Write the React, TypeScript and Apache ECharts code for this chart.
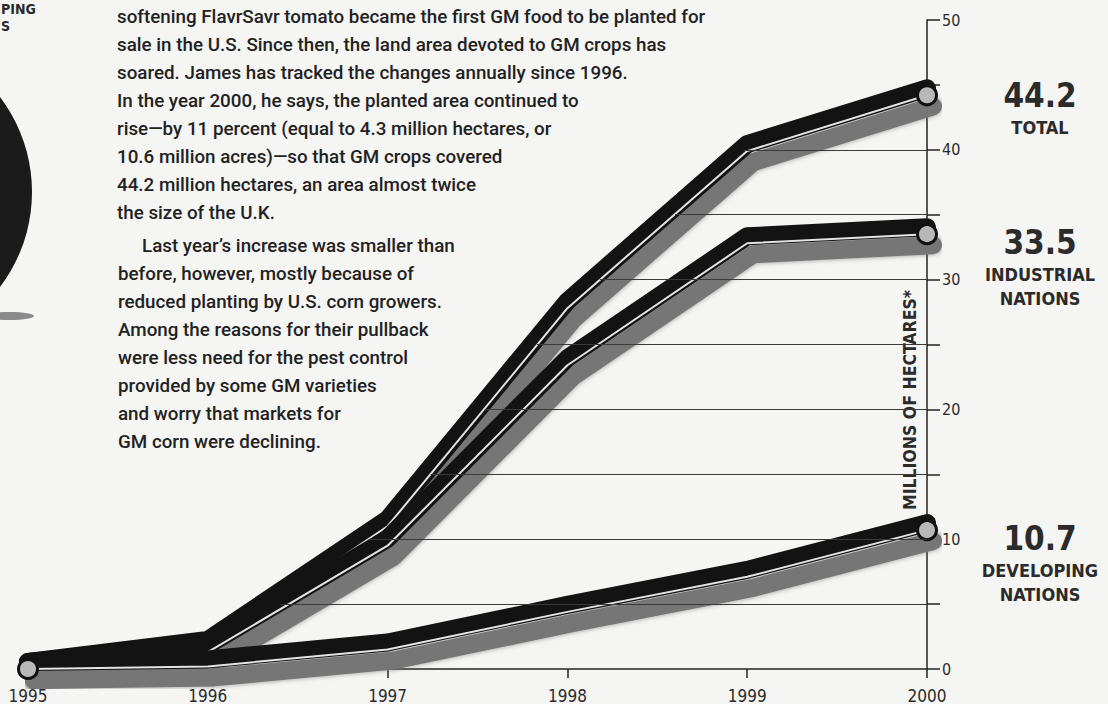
import React, { useEffect, useRef } from "react";
import * as echarts from "echarts";

const years = [1995, 1996, 1997, 1998, 1999, 2000];
const xTickLabels = ["1995", "1996", "1997", "1998", "1999", "2000"];
const totalArea = [0, 1.7, 11.0, 27.8, 39.9, 44.2];
const industrialArea = [0, 1.3, 9.5, 23.4, 32.8, 33.5];
const developingArea = [0, 0.2, 1.5, 4.4, 7.1, 10.7];
const yTickLabels = [0, 10, 20, 30, 40, 50];
const gridValues = [5, 10, 15, 20, 25, 30, 35, 40];
const gridStartYears = [1996.4, 1996.9, 1997.24, 1997.54, 1997.83, 1998.18, 1998.6, 1998.98];

const paragraphOne = [
  "softening FlavrSavr tomato became the first GM food to be planted for",
  "sale in the U.S. Since then, the land area devoted to GM crops has",
  "soared. James has tracked the changes annually since 1996.",
  "In the year 2000, he says, the planted area continued to",
  "rise\u2014by 11 percent (equal to 4.3 million hectares, or",
  "10.6 million acres)\u2014so that GM crops covered",
  "44.2 million hectares, an area almost twice",
  "the size of the U.K.",
];
const paragraphTwo = [
  "Last year\u2019s increase was smaller than",
  "before, however, mostly because of",
  "reduced planting by U.S. corn growers.",
  "Among the reasons for their pullback",
  "were less need for the pest control",
  "provided by some GM varieties",
  "and worry that markets for",
  "GM corn were declining.",
];
const seriesNames = [["TOTAL"], ["INDUSTRIAL", "NATIONS"], ["DEVELOPING", "NATIONS"]];
const axisTitle = "MILLIONS OF HECTARES*";
const cornerTexts = ["PING", "S"];

const COND = '"DejaVu Sans Condensed", "Liberation Sans Narrow", "Roboto Condensed", "DejaVu Sans", sans-serif';
const BODY = 'Roboto, "Noto Sans", sans-serif';

export default function App() {
  const ref = useRef<HTMLDivElement>(null);
  useEffect(() => {
    if (!ref.current) return;
    const chart = echarts.init(ref.current, undefined, { renderer: "svg" });
    const sets = [totalArea, industrialArea, developingArea];
    const toPts = (arr: number[]) => years.map((y, i) => [y, arr[i]]);

    const series: any[] = [];
    series.push({
      type: "line",
      data: [],
      xAxisIndex: 0,
      yAxisIndex: 0,
      silent: true,
      z: 1,
      markLine: {
        silent: true,
        symbol: ["none", "none"],
        label: { show: false },
        lineStyle: { color: "#3a3a3a", width: 1, type: "solid" },
        data: gridValues.map((v, i) => [{ coord: [gridStartYears[i], v] }, { coord: [2000, v] }]),
      },
    });
    sets.forEach((arr, si) => {
      const pts = toPts(arr);
      series.push({
        type: "line",
        data: pts,
        xAxisIndex: 2,
        yAxisIndex: 2,
        symbol: "none",
        silent: true,
        z: 3,
        lineStyle: {
          color: "#767676",
          width: 18,
          cap: "round",
          join: "round",
          shadowColor: "rgba(110,110,110,0.7)",
          shadowBlur: 5,
        },
      });
      series.push({
        type: "line",
        data: pts,
        xAxisIndex: 1,
        yAxisIndex: 1,
        symbol: "none",
        silent: true,
        z: 3,
        lineStyle: { color: "#131313", width: 18, cap: "round", join: "round" },
      });
      series.push({
        type: "line",
        data: pts,
        xAxisIndex: 0,
        yAxisIndex: 0,
        symbol: "circle",
        showAllSymbol: true,
        symbolSize: (_v: any, p: any) =>
          p.dataIndex === years.length - 1 || (si === 2 && p.dataIndex === 0) ? 19 : 0,
        silent: true,
        z: 3,
        itemStyle: { color: "#b8b8b8", borderColor: "#111", borderWidth: 3 },
        lineStyle: { color: "#e4e4e4", width: 2, join: "round" },
      });
    });

    const graphics: any[] = [];
    graphics.push({ type: "circle", shape: { cx: -125, cy: 192, r: 157 }, style: { fill: "#1b1b1b" } });
    graphics.push({ type: "ellipse", shape: { cx: 10, cy: 316, rx: 24, ry: 4 }, style: { fill: "#8a8a8a" } });
    graphics.push({ type: "text", x: 1, y: 9, style: { text: cornerTexts[0], fill: "#2a2a2a", font: `bold 14px ${COND}`, textAlign: "left", textVerticalAlign: "middle" } });
    graphics.push({ type: "text", x: 1, y: 26, style: { text: cornerTexts[1], fill: "#2a2a2a", font: `bold 14px ${COND}`, textAlign: "left", textVerticalAlign: "middle" } });
    paragraphOne.forEach((t, i) => {
      graphics.push({ type: "text", x: 117, y: 17 + i * 28, style: { text: t, fill: "#222", font: `500 18.8px ${BODY}`, textVerticalAlign: "middle" } });
    });
    paragraphTwo.forEach((t, i) => {
      graphics.push({ type: "text", x: i === 0 ? 142 : 118, y: 246 + i * 28, style: { text: t, fill: "#222", font: `500 18.8px ${BODY}`, textVerticalAlign: "middle" } });
    });
    const labelY = [95, 242, 538];
    sets.forEach((arr, si) => {
      graphics.push({ type: "text", x: 1040, y: labelY[si], style: { text: arr[arr.length - 1].toFixed(1), fill: "#2b2b2b", font: `bold 33px ${COND}`, textAlign: "center", textVerticalAlign: "middle" } });
      seriesNames[si].forEach((n, k) => {
        graphics.push({ type: "text", x: 1040, y: labelY[si] + 32 + k * 24, style: { text: n, fill: "#2b2b2b", font: `bold 18px ${COND}`, textAlign: "center", textVerticalAlign: "middle" } });
      });
    });
    graphics.push({ type: "text", x: 910, y: 400, rotation: Math.PI / 2, style: { text: axisTitle, fill: "#2b2b2b", font: `bold 17.5px ${COND}`, textAlign: "center", textVerticalAlign: "middle" } });

    const baseX = { type: "value", min: 1995, max: 2000, interval: 1 };
    const baseY = { type: "value", min: 0, max: 50, interval: 5 };
    chart.setOption({
      animation: false,
      backgroundColor: "#f5f5f3",
      grid: [
        { left: 28, right: 181, top: 20, bottom: 35 },
        { left: 28, right: 181, top: 13, bottom: 42 },
        { left: 34, right: 175, top: 31, bottom: 24 },
      ],
      xAxis: [
        {
          ...baseX,
          gridIndex: 0,
          axisLine: { show: true, lineStyle: { color: "#222", width: 1.5 } },
          axisTick: { show: true, length: 9, lineStyle: { color: "#222", width: 1.5 } },
          axisLabel: { formatter: (v: number) => xTickLabels[years.indexOf(v)] ?? "", fontSize: 17, color: "#2b2b2b", margin: 18, fontFamily: COND },
          splitLine: { show: false },
        },
        { ...baseX, gridIndex: 1, show: false },
        { ...baseX, gridIndex: 2, show: false },
      ],
      yAxis: [
        {
          ...baseY,
          gridIndex: 0,
          position: "right",
          axisLine: { show: true, lineStyle: { color: "#222", width: 1.5 } },
          axisTick: { show: true, length: 13, lineStyle: { color: "#222", width: 1.5 } },
          axisLabel: { formatter: (v: number) => (yTickLabels.includes(v) ? String(v) : ""), fontSize: 16, color: "#2b2b2b", margin: 15, fontFamily: COND },
          splitLine: { show: false },
        },
        { ...baseY, gridIndex: 1, show: false },
        { ...baseY, gridIndex: 2, show: false },
      ],
      series,
      graphic: graphics,
    });
    return () => chart.dispose();
  }, []);
  return <div ref={ref} style={{ position: "absolute", left: 0, top: 0, width: 1108, height: 704 }} />;
}
